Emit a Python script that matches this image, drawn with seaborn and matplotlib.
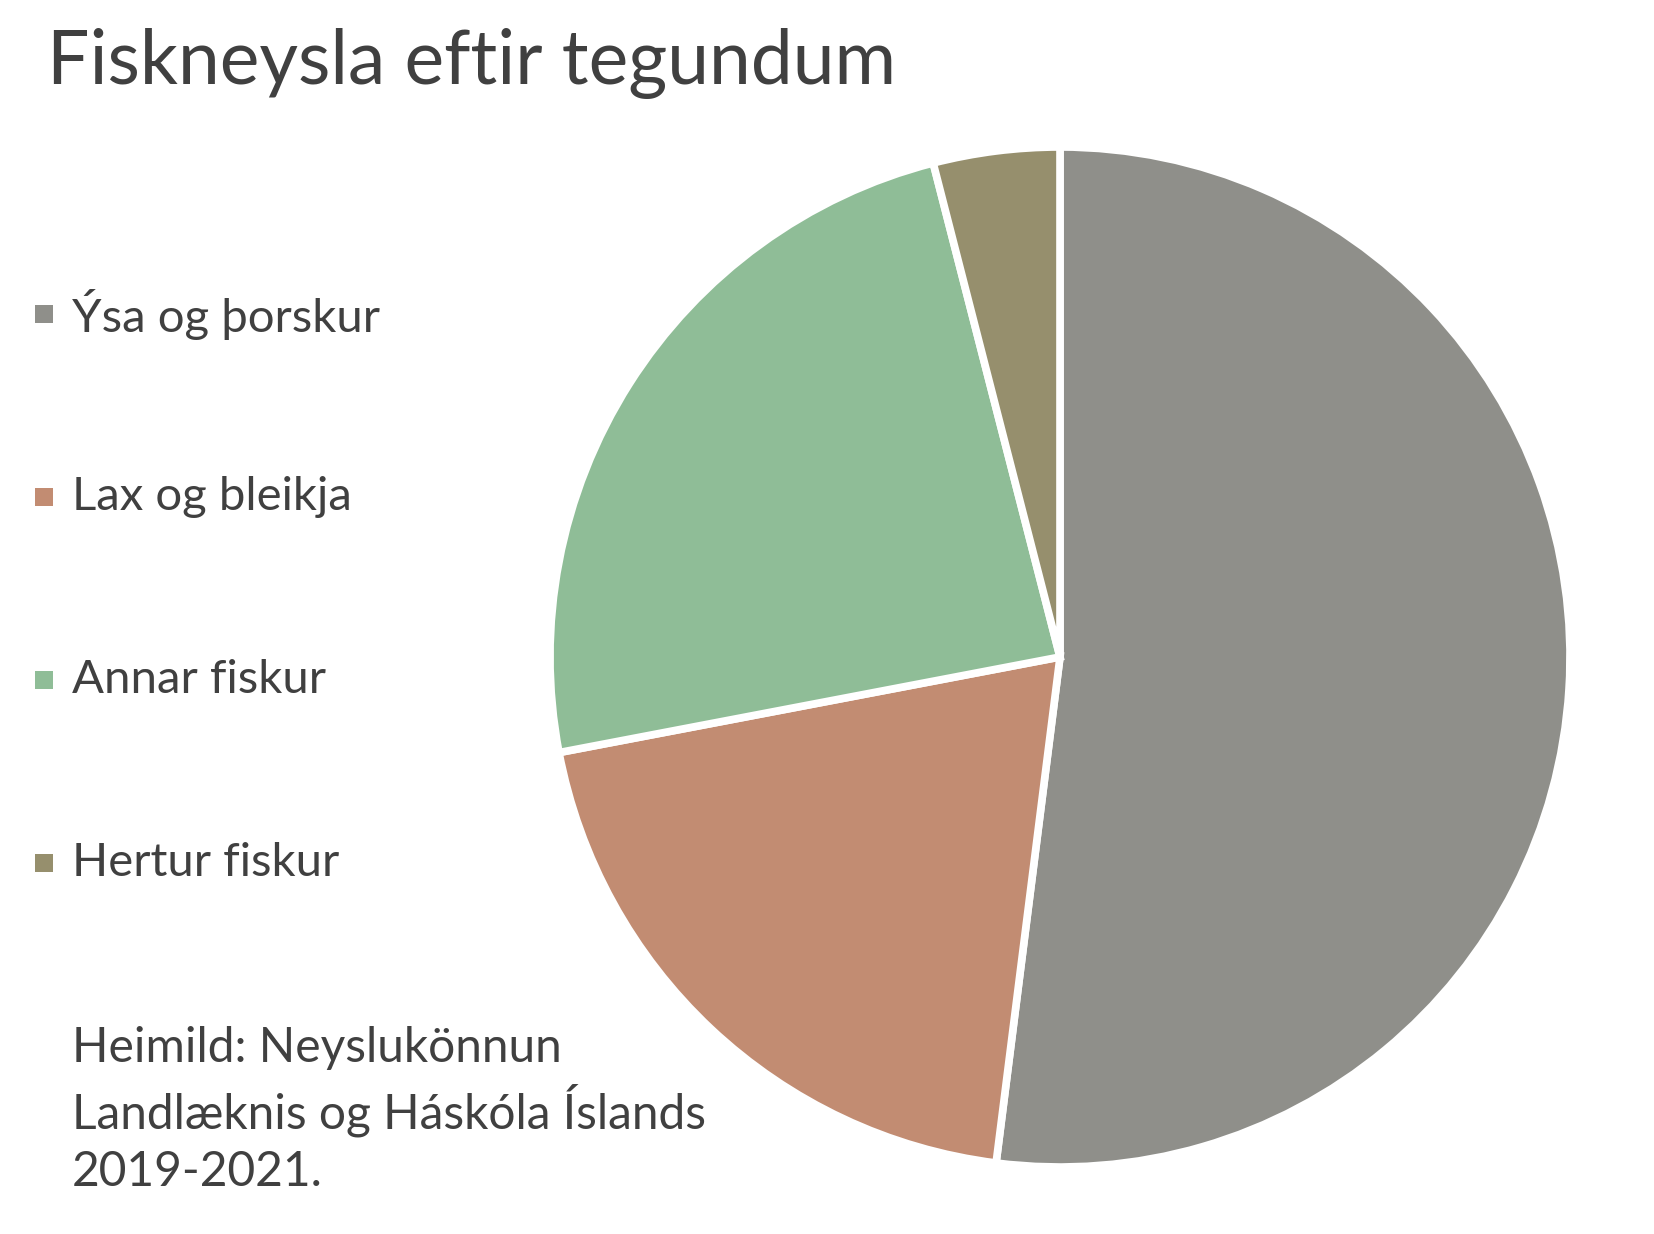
import matplotlib
matplotlib.use("Agg")
import matplotlib.pyplot as plt
import seaborn as sns
from matplotlib.patches import Rectangle

# data
categories = ["Ýsa og þorskur", "Lax og bleikja", "Annar fiskur", "Hertur fiskur"]
shares = [52, 20, 24, 4]
colors = ["#8f8f8a", "#c28c72", "#8fbd97", "#968f6d"]
title = "Fiskneysla eftir tegundum"
source_lines = ["Heimild: Neyslukönnun", "Landlæknis og Háskóla Íslands", "2019-2021."]

sns.set_theme(style="white")
plt.rcParams["font.family"] = ["Lato", "DejaVu Sans"]
text_color = "#404040"

W, H = 1654, 1234
fig = plt.figure(figsize=(W / 100, H / 100), dpi=100)

# pie axes, centred at (1060, 657) px with radius ~510 px
cx, cy, r = 1060, 657, 510
ax = fig.add_axes([(cx - r) / W, 1 - (cy + r) / H, 2 * r / W, 2 * r / H])
ax.pie(shares, colors=colors, startangle=90, counterclock=False, radius=1,
       wedgeprops=dict(edgecolor="white", linewidth=5.5))
ax.set_xlim(-1, 1)
ax.set_ylim(-1, 1)
ax.set_aspect("equal")
ax.axis("off")

# title
fig.text(47 / W, 1 - 84 / H, title, fontsize=54, color=text_color, ha="left", va="baseline")

# legend, drawn by hand to match the slide layout
for i, (lab, col) in enumerate(zip(categories, colors)):
    y = 314 + i * 183
    fig.patches.append(Rectangle((35 / W, 1 - (y + 9) / H), 18 / W, 18 / H,
                                 transform=fig.transFigure, facecolor=col, edgecolor="none"))
    fig.text(72 / W, 1 - y / H, lab, fontsize=34, color=text_color, ha="left", va="center")

# source note
for i, line in enumerate(source_lines):
    fig.text(72 / W, 1 - (1048 + i * 62) / H, line, fontsize=34.5, color=text_color,
             ha="left", va="center")

fig.savefig("out.png", dpi=100, facecolor="white")
